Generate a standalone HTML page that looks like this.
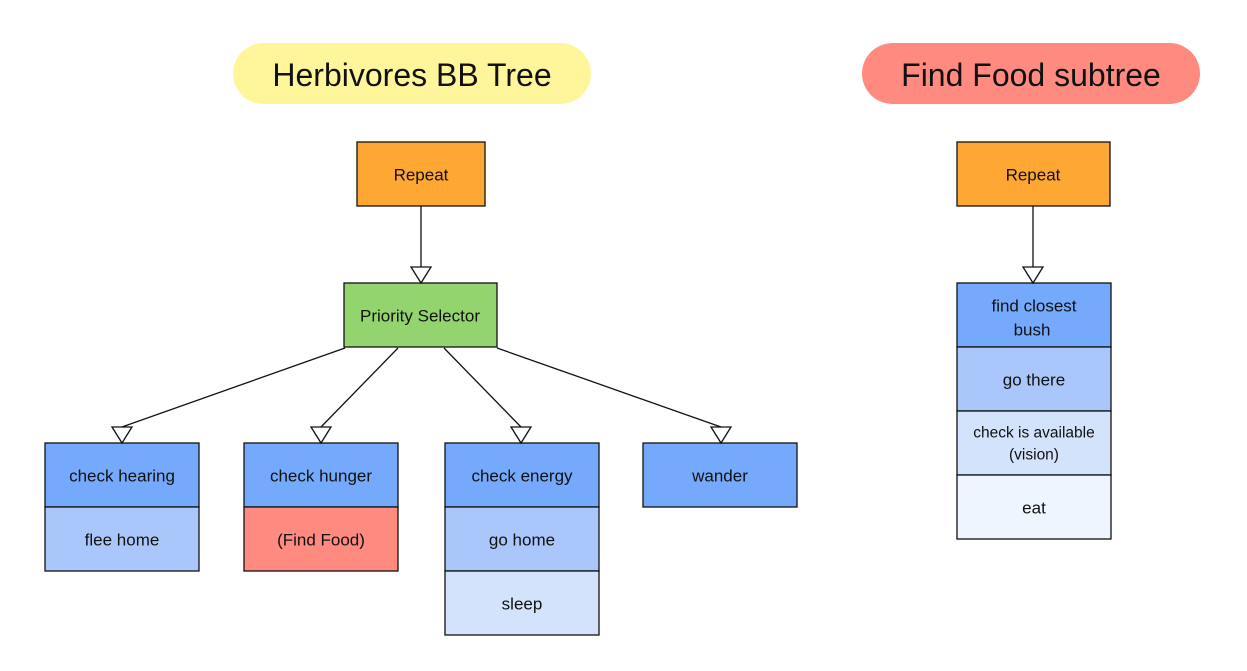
<!DOCTYPE html>
<html><head><style>body{margin:0;background:#fff}svg{display:block}text{font-family:"Liberation Sans",Arial,Helvetica,sans-serif;fill:#111;text-anchor:middle;dominant-baseline:central}</style></head>
<body>
<svg width="1247" height="671" viewBox="0 0 1247 671" font-family="Liberation Sans, Arial, sans-serif">
<rect x="233" y="43" width="358" height="61" rx="30.5" fill="#FFF69C"/>
<text x="412" y="75" font-size="32" fill="#000">Herbivores BB Tree</text>
<rect x="862" y="43" width="338" height="61" rx="30.5" fill="#FF8A80"/>
<text x="1031" y="75" font-size="32" fill="#000">Find Food subtree</text>
<g stroke="#111" stroke-width="1.3">
<rect x="357" y="142" width="128" height="64" fill="#FFA733"/>
<rect x="344" y="283" width="153" height="64" fill="#93D46F"/>
<rect x="45" y="443" width="154" height="64" fill="#74A9FB"/>
<rect x="45" y="507" width="154" height="64" fill="#A9C7FB"/>
<rect x="244" y="443" width="154" height="64" fill="#74A9FB"/>
<rect x="244" y="507" width="154" height="64" fill="#FF8A80"/>
<rect x="445" y="443" width="154" height="64" fill="#74A9FB"/>
<rect x="445" y="507" width="154" height="64" fill="#A9C7FB"/>
<rect x="445" y="571" width="154" height="64" fill="#D3E3FB"/>
<rect x="643" y="443" width="154" height="64" fill="#74A9FB"/>
<rect x="957" y="142" width="153" height="64" fill="#FFA733"/>
<rect x="957" y="283" width="154" height="64" fill="#74A9FB"/>
<rect x="957" y="347" width="154" height="64" fill="#A9C7FB"/>
<rect x="957" y="411" width="154" height="64" fill="#D3E3FB"/>
<rect x="957" y="475" width="154" height="64" fill="#EEF5FE"/>
<line x1="421" y1="206" x2="421" y2="267"/>
<line x1="1033" y1="206" x2="1033" y2="267"/>
<line x1="345" y1="348" x2="122" y2="427"/>
<line x1="398" y1="348" x2="321" y2="427"/>
<line x1="444" y1="348" x2="521" y2="427"/>
<line x1="497" y1="348" x2="721" y2="427"/>
<g fill="#fff">
<polygon points="411,267 431,267 421,283"/>
<polygon points="1023,267 1043,267 1033,283"/>
<polygon points="112,427 132,427 122,443"/>
<polygon points="311,427 331,427 321,443"/>
<polygon points="511,427 531,427 521,443"/>
<polygon points="711,427 731,427 721,443"/>
</g>
</g>
<g font-size="17">
<text x="421" y="175">Repeat</text>
<text x="420" y="316">Priority Selector</text>
<text x="122" y="476">check hearing</text>
<text x="122" y="540">flee home</text>
<text x="321" y="476">check hunger</text>
<text x="321" y="540">(Find Food)</text>
<text x="522" y="476">check energy</text>
<text x="522" y="540">go home</text>
<text x="522" y="604">sleep</text>
<text x="720" y="476">wander</text>
<text x="1033" y="175">Repeat</text>
<text x="1034" y="306">find closest</text>
<text x="1032" y="330">bush</text>
<text x="1034" y="380">go there</text>
<text x="1034" y="508">eat</text>
</g>
<text x="1034" y="433" font-size="15.5">check is available</text>
<text x="1034" y="455" font-size="15.5">(vision)</text>
</svg>
</body></html>
